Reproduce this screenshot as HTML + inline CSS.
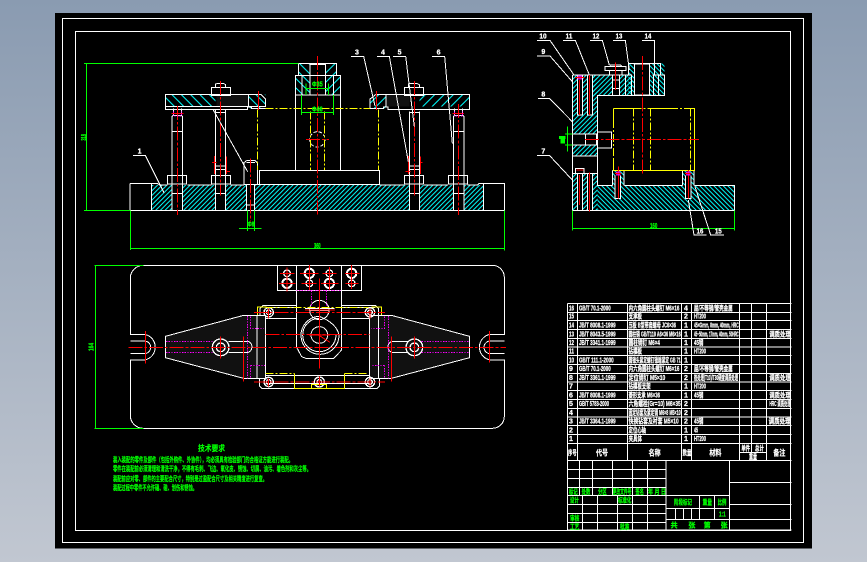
<!DOCTYPE html>
<html><head><meta charset="utf-8"><style>
html,body{margin:0;padding:0;background:#a5b1c1}
svg{display:block;shape-rendering:crispEdges}
.w{stroke:#fff;stroke-width:3;fill:none}
.r{stroke:#f00;stroke-width:3;fill:none}
.rd{stroke:#f00;stroke-width:3;fill:none;stroke-dasharray:42 6 8 6}
.y{stroke:#ff0;stroke-width:3;fill:none}
.yd{stroke:#ff0;stroke-width:3;fill:none;stroke-dasharray:24 6 6 6}
.g{stroke:#0f0;stroke-width:3;fill:none}
.m{stroke:#f0f;stroke-width:3;fill:none;stroke-dasharray:4 4}
.c1{fill:url(#h1);stroke:none}
.c2{fill:url(#h2);stroke:none}
.c3{fill:url(#h3);stroke:none}
.c4{fill:url(#h4);stroke:none}
text{font-family:"Liberation Sans","Noto Sans CJK SC",sans-serif;font-weight:bold}
.tw{fill:#fff;stroke:#fff;stroke-width:.8;font-size:21px}
.tg{fill:#0f0;stroke:#0f0;stroke-width:.8;font-size:21px}
</style></head><body>
<svg width="867" height="562" viewBox="0 0 867 562" xmlns="http://www.w3.org/2000/svg">
<defs>
<linearGradient id="bg" x1="0" y1="0" x2="0" y2="1"><stop offset="0" stop-color="#8a9bb1"/><stop offset="1" stop-color="#c1c7d1"/></linearGradient>
<pattern id="h1" patternUnits="userSpaceOnUse" width="14" height="14"><path d="M-2 16L16 -2M-2 2L2 -2M12 16L16 12" stroke="#0ff" stroke-width="2.5"/></pattern>
<pattern id="h2" patternUnits="userSpaceOnUse" width="14" height="14"><path d="M-2 -2L16 16M-2 12L2 16M12 -2L16 2" stroke="#0ff" stroke-width="2.5"/></pattern>
<pattern id="h3" patternUnits="userSpaceOnUse" width="28" height="28"><path d="M-2 -2L30 30M-2 26L2 30M26 -2L30 2" stroke="#0ff" stroke-width="2.5"/></pattern>
<pattern id="h4" patternUnits="userSpaceOnUse" width="28" height="28"><path d="M-2 30L30 -2M-2 2L2 -2M26 30L30 26" stroke="#0ff" stroke-width="2.5"/></pattern>
</defs>
<rect width="867" height="562" fill="url(#bg)"/>
<rect x="55" y="13" width="757" height="535.5" fill="#000"/>
<rect x="62.5" y="18.5" width="741" height="524" fill="none" stroke="#fff"/>
<rect x="75.5" y="31.5" width="715" height="499" fill="none" stroke="#fff"/>

<!-- front view -->
<g transform="translate(70 30) scale(.33333)">
<rect class="c1" x="244" y="465" width="62" height="76"/><rect class="c1" x="338" y="465" width="98" height="76"/><rect class="c1" x="467" y="465" width="63" height="76"/><rect class="c1" x="554" y="465" width="464" height="76"/><rect class="c1" x="1048" y="465" width="102" height="76"/><rect class="c1" x="1182" y="465" width="58" height="76"/>
<rect class="c3" x="287" y="193" width="150" height="36"/><rect class="c3" x="535" y="193" width="52" height="42"/>
<rect class="c4" x="1048" y="193" width="150" height="36"/><rect class="c4" x="900" y="193" width="48" height="42"/>
<rect x="440" y="195" width="95" height="34" fill="#111"/><rect x="950" y="195" width="68" height="34" fill="#111"/>
<rect class="c3" x="685" y="100" width="35" height="37"/><rect class="c4" x="766" y="100" width="34" height="37"/><rect class="c3" x="676" y="137" width="44" height="58"/><rect class="c4" x="766" y="137" width="46" height="58"/>
<path class="w" d="M180 460H244M244 460V541M180 460V541H1304V460H1240V541M1240 460H1304M244 460H262L268 465H292M352 465H424M482 465H522M1062 465H1134M1192 465H1222L1228 460H1240M929 465H1003"/>
<path class="w" d="M306 260V541M338 260V541M436 240V541M467 240V541M530 465V541M554 465V541M1018 245V541M1048 245V541M1150 260V541M1182 260V541M306 304H338M1150 304H1182M306 490H338M1150 490H1182M436 490H467M1018 490H1048M530 525H554"/>
<path class="w" d="M287 193H572L587 207V229H287ZM287 229V239H532V231H545V235H587M535 193V229M900 235V207L918 193H1198V239H954V231H940V235H900M948 193V229"/>
<path class="w" d="M424 172H482V196H424ZM437 172V162L445 160H460L467 164V172M1003 172H1061V196H1003ZM1016 172V162L1024 160H1040L1048 164V172M292 437H350V462H292ZM424 437H482V462H424ZM1003 437H1061V462H1003ZM1135 437H1193V462H1135ZM437 408H467V437M1018 408H1048V437M437 418H467M1018 418H1048"/>
<path class="w" d="M310 235V258M334 235V258M306 260L310 256H334L338 260M1150 260L1154 256H1178L1182 260M1154 235V256M1178 235V256M436 248H467M1018 248H1048"/>
<path class="w" d="M685 100H800V137H685ZM676 137H812V421H676ZM676 195H812M720 100V195M766 100V195M696 137V195M790 137V195M720 103H766"/>
<path class="w" d="M568 421H929V463H568ZM522 463V398L530 392H555L562 398V463M530 398H555M522 463H568"/>
<circle class="w" cx="742" cy="328" r="23" stroke-dasharray="10 6"/>
<path class="yd" d="M587 235H900M562 239V420M925 239V420M721 245V420M763 245V420"/>
<path class="rd" d="M322 228V555M451 153V497M1033 153V497M1165 222V555M742 78V555M708 328H777M542 385V575"/>
<path class="r" d="M565 183V240M920 183V240M304 250H340M1148 250H1182M433 378V432M470 380V432M1015 378V432M1052 380V432M426 398H440M1006 425H1022M1050 398H1058M468 425H480"/>
<path class="m" d="M310 245V258H334V245M1154 245V258H1178V245"/>
<path class="g" d="M42 100H685M50 100V541M42 541H180M181 541V660M1304 541V662M181 655H1304M507 595H575M532 541V603M553 541V603M708 160V195M776 160V195M708 175H776M694 195V255M790 195V255M694 248H790"/>
<path class="w" d="M189 376H226L282 488M843 79H881L915 228M921 79H958L1015 395M969 79H1007L1033 290M1086 79H1124L1147 340M430 240L533 425"/>
<text class="tg" transform="translate(48 332) rotate(-90)" textLength="20" lengthAdjust="spacingAndGlyphs">318</text>
<text class="tg" x="732" y="654" textLength="20" lengthAdjust="spacingAndGlyphs">360</text>
<text class="tg" x="533" y="590" textLength="20" lengthAdjust="spacingAndGlyphs">Φ8</text>
<text class="tg" x="726" y="170" textLength="32" lengthAdjust="spacingAndGlyphs">Φ35</text>
<text class="tg" x="726" y="244" textLength="32" lengthAdjust="spacingAndGlyphs">Φ46</text>
<text class="tw" x="203" y="370">1</text><text class="tw" x="855" y="74">3</text><text class="tw" x="933" y="74">4</text><text class="tw" x="983" y="74">5</text><text class="tw" x="1100" y="74">6</text>
</g>

<!-- side view -->
<g transform="translate(520 20) scale(.33333)">
<rect class="c1" x="218" y="165" width="117" height="62"/>
<rect class="c1" x="157" y="165" width="76" height="177"/>
<rect class="c1" x="157" y="375" width="76" height="33"/>
<rect class="c1" x="157" y="460" width="76" height="112"/>
<rect class="c2" x="233" y="496" width="410" height="76"/>
<rect class="c2" x="278" y="452" width="34" height="44"/><rect class="c2" x="488" y="452" width="34" height="44"/>
<rect class="c2" x="325" y="130" width="109" height="97"/>
<rect x="343" y="132" width="45" height="93" fill="#000"/>
<rect x="172" y="165" width="15" height="120" fill="#000"/><rect x="202" y="165" width="15" height="120" fill="#000"/><rect x="278" y="165" width="20" height="62" fill="#000"/><rect x="172" y="460" width="15" height="112" fill="#000"/><rect x="202" y="460" width="15" height="112" fill="#000"/><rect x="287" y="466" width="15" height="70" fill="#000"/><rect x="497" y="466" width="15" height="70" fill="#000"/>
<path class="w" d="M157 165V572H643V496H524M488 496H314M278 496H233V227H335V165H157M218 165V227M335 227H434V165H422V130H325V165"/>
<path class="w" d="M343 132H388V225H343ZM400 165V227M416 165V227M398 165H434M316 165V227M298 165V227M278 165V227M278 180H298M278 205H298M255 140H318V152H255ZM268 140L272 135H302L306 140M268 152V165M306 152V165"/>
<path class="w" d="M172 165V285H187V165M202 165V285H217V165M172 460V572M187 460V572M202 460V572M217 460V572M157 460H233M166 445H192V460H166ZM285 466V535H302V466M497 466V535H513V466M278 452V496M312 452V496M488 452V496M522 452V496M278 452H312M488 452H522"/>
<path class="w" d="M157 342H233M157 375H233M197 342V375M229 342V375M233 336H275V384H233M157 408H233M233 460V496"/>
<path class="y" d="M280 265V300M280 420V452H524V265H511M280 265H340M392 265H450"/>
<path class="yd" d="M511 265V452M340 265H392M450 265H511M280 300V420M340 265V452M392 265V452"/>
<path class="rd" d="M195 358H537M367 108V460"/>
<path class="r" d="M295 440V535M505 450V535M178 180V285M208 457V575M286 128V210M178 465V555M208 165V285"/>
<path d="M172 167h14v12h-14zM288 454h14v12h-14zM498 454h14v12h-14z" fill="#f0f" opacity=".8"/>
<path class="r" d="M165 173H193M285 460H305M495 460H515M170 450H190"/>
<path class="g" d="M157 572V632M643 572V632M157 625H643M142 320V395M135 342H157M135 375H157"/>
<rect x="117" y="348" width="20" height="9" fill="#0f0"/><rect x="121" y="357" width="14" height="14" fill="#0f0"/>
<text class="tg" x="390" y="624" textLength="22" lengthAdjust="spacingAndGlyphs">160</text>
<path class="w" d="M51 61H90L162 165M129 61H166L208 165M210 61H247L268 135M279 61H316L328 150M366 61H403V165M51 108H90L157 185M54 235H88L157 305M51 406H88L157 480M560 645H522L505 540M612 645H572L525 500"/>
<text class="tw" x="58" y="56" textLength="22" lengthAdjust="spacingAndGlyphs">10</text><text class="tw" x="137" y="56" textLength="20" lengthAdjust="spacingAndGlyphs">11</text><text class="tw" x="218" y="56" textLength="20" lengthAdjust="spacingAndGlyphs">12</text><text class="tw" x="287" y="56" textLength="20" lengthAdjust="spacingAndGlyphs">13</text><text class="tw" x="374" y="56" textLength="20" lengthAdjust="spacingAndGlyphs">14</text>
<text class="tw" x="64" y="102">9</text><text class="tw" x="64" y="229">8</text><text class="tw" x="64" y="400">7</text>
<text class="tw" x="530" y="640" textLength="20" lengthAdjust="spacingAndGlyphs">16</text><text class="tw" x="585" y="640" textLength="20" lengthAdjust="spacingAndGlyphs">15</text>
</g>

<!-- plan view -->
<g transform="translate(85 255) scale(.33333)">
<path d="M241 244L476 181H541V370H476L241 308Z" fill="#111"/><path d="M1154 244L919 181H853V370H919L1154 308Z" fill="#111"/>
<path class="w" d="M175 31H1222A36 36 0 0 1 1258 67V238H1216A39 39 0 0 0 1216 315H1258V484A36 36 0 0 1 1222 520H175A39 39 0 0 1 136 484V315H178A39 39 0 0 0 178 238H136V67A39 39 0 0 1 175 31Z"/>
<path class="w" d="M136 258H178A19 19 0 0 1 178 296H136M1258 258H1216A19 19 0 0 0 1216 296H1258"/>
<path class="w" d="M241 244L476 181H541V370H476L241 308ZM1154 244L919 181H853V370H919L1154 308ZM516 181V370M880 181V370M541 361H853M541 190H634M770 190H853M533 152H634M770 152H872L880 160V181M533 152L525 160V181M541 158H634M770 158H870M523 370V392L531 400H876L884 392V370M541 385H853"/>
<path class="w" d="M577 31H830V107H577ZM634 31V275L650 305L665 311H745L770 285V31M770 285V270"/>
<path class="w" d="M430 259H490M430 292H490M490 259A18 18 0 0 1 490 292M920 259H970M920 292H970M920 259A18 18 0 0 0 920 292"/>
<circle class="w" cx="703" cy="165" r="29"/><path class="w" d="M660 160H748M675 166H732"/>
<path class="w" d="M703 184A57 57 0 1 0 762 240Q755 205 703 184ZM703 190A50 50 0 1 0 753 240"/>
<circle class="w" cx="703" cy="240" r="25" stroke-width="5"/>
<g class="w" style="stroke-width:4">
<circle cx="407" cy="277" r="25"/><circle cx="407" cy="277" r="13"/><circle cx="988" cy="277" r="25"/><circle cx="988" cy="277" r="13"/>
<circle cx="551" cy="172" r="14"/><circle cx="551" cy="172" r="7"/><circle cx="855" cy="172" r="14"/><circle cx="855" cy="172" r="7"/><circle cx="551" cy="381" r="14"/><circle cx="551" cy="381" r="7"/><circle cx="855" cy="381" r="14"/><circle cx="855" cy="381" r="7"/><circle cx="703" cy="381" r="15"/><circle cx="703" cy="381" r="7"/>
<circle cx="606" cy="55" r="10"/><circle cx="606" cy="85" r="14" style="stroke-width:6"/><circle cx="673" cy="55" r="14" style="stroke-width:6"/><circle cx="673" cy="85" r="10"/><circle cx="733" cy="55" r="10"/><circle cx="733" cy="85" r="14" style="stroke-width:6"/><circle cx="800" cy="55" r="14" style="stroke-width:6"/><circle cx="800" cy="85" r="10"/>
</g>
<path class="m" d="M634 106H770M680 107V152M725 107V152M488 183V370M497 185V220H535M497 331H540M497 331V370M243 259H385M243 292H385M1010 259H1150M1010 292H1150M898 185V220H860M910 183V370M898 331H860M898 331V370"/>
<path class="yd" d="M541 158H850M541 355H628M778 355H850"/>
<path class="y" d="M517 180V156H545M889 180V156H860M628 355V400H778V355M680 400V388H725V400"/>
<path class="rd" d="M130 277H1263M541 239H853M507 172H900M507 381H900"/>
<path class="r" d="M703 70V340M181 228V326M1213 228V323M476 245V380M919 245V380M407 245V310M988 245V310M660 165H750M700 240L735 262M672 240H735M585 55H628M582 85H632M645 55H700M650 85H695M712 55H755M708 85H760M780 55H824M782 85H820M606 38V110M673 30V105M733 36V105M800 30V102M551 160V190M855 160V190M551 370V395M855 370V395M703 365V395"/>
<path class="g" d="M28 31H175M31 31V520M28 520H175"/>
<text class="tg" transform="translate(26 288) rotate(-90)" textLength="24" lengthAdjust="spacingAndGlyphs">164</text>
</g>

<!-- tech requirements -->
<g fill="#0f0" stroke="#0f0" stroke-width=".2" style="font-size:7px">
<text x="198" y="451" style="font-size:8px" textLength="27" lengthAdjust="spacingAndGlyphs">技术要求</text>
<text x="113" y="462" textLength="180" lengthAdjust="spacingAndGlyphs">装入装配的零件及部件（包括外购件、外协件），均必须具有检验部门的合格证方能进行装配。</text>
<text x="113" y="471" textLength="198" lengthAdjust="spacingAndGlyphs">零件在装配前必须清理和清洗干净，不得有毛刺、飞边、氧化皮、锈蚀、切屑、油污、着色剂和灰尘等。</text>
<text x="113" y="481" textLength="154" lengthAdjust="spacingAndGlyphs">装配前应对零、部件的主要配合尺寸，特别是过盈配合尺寸及相关精度进行复查。</text>
<text x="113" y="490" textLength="84" lengthAdjust="spacingAndGlyphs">装配过程中零件不允许磕、碰、划伤和锈蚀。</text>
</g>

<!-- table -->
<g transform="translate(560 295) scale(.33333)">
<path class="w" d="M22 25H694M22 52H694M22 77H694M22 104H694M22 130H694M22 156H694M22 182H694M22 208H694M22 235H694M22 261H694M22 287H694M22 313H694M22 340H694M22 366H694M22 392H694M22 418H694M22 445H694M22 496H694M22 25V705H694M53 25V496M202 25V496M365 25V496M395 25V496M538 25V496M574 25V472M620 25V496M538 472H620"/>
<path class="w" d="M22 523H318M22 550H318M22 577H318M22 601H508M22 628H318M22 655H318M22 682H318M58 496V601M97 496V601M157 496V601M217 496V601M262 496V601M67 601V705M112 601V705M172 601V705M217 601V705M262 601V705M318 496V705M318 640H508M318 673H508M418 601V673M463 601V673M346 640V673M370 640V673M394 640V673M508 496V705M508 562H694M508 628H694M508 673H694"/>
<g class="tw">
<text x="27" y="46" textLength="15" lengthAdjust="spacingAndGlyphs">16</text><text x="57" y="46" textLength="95" lengthAdjust="spacingAndGlyphs">GB/T 70.1-2000</text><text x="206" y="46" textLength="152" lengthAdjust="spacingAndGlyphs">内六角圆柱头螺钉 M6×16</text><text x="372" y="46">4</text><text x="402" y="46" textLength="116" lengthAdjust="spacingAndGlyphs">屈/不等钢/管壳金属</text>
<text x="27" y="71" textLength="15" lengthAdjust="spacingAndGlyphs">15</text><text x="206" y="71" textLength="40" lengthAdjust="spacingAndGlyphs">支承板</text><text x="372" y="71">2</text><text x="402" y="71" textLength="36" lengthAdjust="spacingAndGlyphs">HT200</text>
<text x="27" y="98" textLength="15" lengthAdjust="spacingAndGlyphs">14</text><text x="57" y="98" textLength="110" lengthAdjust="spacingAndGlyphs">JB/T 8008.1-1999</text><text x="206" y="98" textLength="142" lengthAdjust="spacingAndGlyphs">压板 B型带肩螺母 JC6×36</text><text x="372" y="98">1</text><text x="402" y="98" textLength="134" lengthAdjust="spacingAndGlyphs">45×Gmm, 8mm, 40mm, HRC</text>
<text x="27" y="124" textLength="15" lengthAdjust="spacingAndGlyphs">13</text><text x="57" y="124" textLength="110" lengthAdjust="spacingAndGlyphs">JB/T 8043.5-1999</text><text x="206" y="124" textLength="156" lengthAdjust="spacingAndGlyphs">圆柱销 GB/T119 A6×36 M6×16</text><text x="372" y="124">1</text><text x="402" y="124" textLength="134" lengthAdjust="spacingAndGlyphs">45~50mm, 17mm, 40mm, 50HRC</text><text x="628" y="124" textLength="64" lengthAdjust="spacingAndGlyphs">调质处理</text>
<text x="27" y="150" textLength="15" lengthAdjust="spacingAndGlyphs">12</text><text x="57" y="150" textLength="110" lengthAdjust="spacingAndGlyphs">JB/T 3341.1-1999</text><text x="206" y="150" textLength="94" lengthAdjust="spacingAndGlyphs">圆柱销钉 M6×4</text><text x="372" y="150">1</text><text x="402" y="150" textLength="28" lengthAdjust="spacingAndGlyphs">45钢</text>
<text x="27" y="176" textLength="15" lengthAdjust="spacingAndGlyphs">11</text><text x="206" y="176" textLength="40" lengthAdjust="spacingAndGlyphs">钻模板</text><text x="372" y="176">1</text><text x="402" y="176" textLength="36" lengthAdjust="spacingAndGlyphs">HT200</text>
<text x="27" y="202" textLength="15" lengthAdjust="spacingAndGlyphs">10</text><text x="57" y="202" textLength="104" lengthAdjust="spacingAndGlyphs">GB/T 111.1-2000</text><text x="206" y="202" textLength="156" lengthAdjust="spacingAndGlyphs">圆锥头紧定螺钉锥端紧定 GB 71</text><text x="372" y="202">1</text>
<text x="27" y="228">9</text><text x="57" y="228" textLength="95" lengthAdjust="spacingAndGlyphs">GB/T 70.1-2000</text><text x="206" y="228" textLength="152" lengthAdjust="spacingAndGlyphs">内六角圆柱头螺钉 M6×16</text><text x="372" y="228">2</text><text x="402" y="228" textLength="116" lengthAdjust="spacingAndGlyphs">屈/不等钢/管壳金属</text>
<text x="27" y="255">8</text><text x="57" y="255" textLength="110" lengthAdjust="spacingAndGlyphs">JB/T 3361.1-1999</text><text x="206" y="255" textLength="110" lengthAdjust="spacingAndGlyphs">定位销钉 M5×10</text><text x="372" y="255">2</text><text x="402" y="255" textLength="132" lengthAdjust="spacingAndGlyphs">热处理(T10)/T30硬度调质处理</text><text x="628" y="255" textLength="64" lengthAdjust="spacingAndGlyphs">调质处理</text>
<text x="27" y="281">7</text><text x="206" y="281" textLength="66" lengthAdjust="spacingAndGlyphs">钻模板支架</text><text x="372" y="281">1</text><text x="402" y="281" textLength="36" lengthAdjust="spacingAndGlyphs">HT200</text>
<text x="27" y="307">6</text><text x="57" y="307" textLength="110" lengthAdjust="spacingAndGlyphs">JB/T 8008.1-1999</text><text x="206" y="307" textLength="94" lengthAdjust="spacingAndGlyphs">菱形支承 M6×36</text><text x="372" y="307">1</text><text x="402" y="307" textLength="28" lengthAdjust="spacingAndGlyphs">45钢</text><text x="628" y="307" textLength="64" lengthAdjust="spacingAndGlyphs">调质处理</text>
<text x="27" y="333">5</text><text x="57" y="333" textLength="90" lengthAdjust="spacingAndGlyphs">GB/T 5783-2000</text><text x="206" y="333" textLength="156" lengthAdjust="spacingAndGlyphs">六角螺栓(Gr=10) M6×35</text><text x="372" y="333">2</text><text x="628" y="333" textLength="64" lengthAdjust="spacingAndGlyphs">HRC 调质处理</text>
<text x="27" y="360">4</text><text x="206" y="360" textLength="156" lengthAdjust="spacingAndGlyphs">固定钻套及紧定销 M6×8 M5×10</text><text x="372" y="360">2</text>
<text x="27" y="386">3</text><text x="57" y="386" textLength="110" lengthAdjust="spacingAndGlyphs">JB/T 3364.1-1999</text><text x="206" y="386" textLength="150" lengthAdjust="spacingAndGlyphs">快换钻套及衬套 M5×10</text><text x="372" y="386">2</text><text x="402" y="386" textLength="28" lengthAdjust="spacingAndGlyphs">45钢</text><text x="626" y="386" textLength="66" lengthAdjust="spacingAndGlyphs">调质处理</text>
<text x="27" y="412">2</text><text x="206" y="412" textLength="52" lengthAdjust="spacingAndGlyphs">定位心轴</text><text x="372" y="412">1</text><text x="402" y="412" textLength="12" lengthAdjust="spacingAndGlyphs">45</text>
<text x="27" y="438">1</text><text x="206" y="438" textLength="40" lengthAdjust="spacingAndGlyphs">夹具体</text><text x="372" y="438">1</text><text x="402" y="438" textLength="36" lengthAdjust="spacingAndGlyphs">HT200</text>
<text x="24" y="480" textLength="26" lengthAdjust="spacingAndGlyphs">序号</text><text x="108" y="482" style="font-size:24px" textLength="36" lengthAdjust="spacingAndGlyphs">代号</text><text x="266" y="482" style="font-size:24px" textLength="36" lengthAdjust="spacingAndGlyphs">名称</text><text x="368" y="480" textLength="26" lengthAdjust="spacingAndGlyphs">数量</text><text x="448" y="482" style="font-size:24px" textLength="36" lengthAdjust="spacingAndGlyphs">材料</text><text x="544" y="466" textLength="26" lengthAdjust="spacingAndGlyphs">单件</text><text x="585" y="466" textLength="26" lengthAdjust="spacingAndGlyphs">总计</text><text x="567" y="492" textLength="24" lengthAdjust="spacingAndGlyphs">重量</text><text x="640" y="482" style="font-size:24px" textLength="36" lengthAdjust="spacingAndGlyphs">备注</text>
</g>
<g class="tg">
<text x="27" y="597" textLength="26" lengthAdjust="spacingAndGlyphs">标记</text><text x="65" y="597" textLength="26" lengthAdjust="spacingAndGlyphs">处数</text><text x="114" y="597" textLength="26" lengthAdjust="spacingAndGlyphs">分区</text><text x="158" y="597" textLength="56" lengthAdjust="spacingAndGlyphs">更改文件号</text><text x="226" y="597" textLength="26" lengthAdjust="spacingAndGlyphs">签名</text><text x="264" y="597" textLength="54" lengthAdjust="spacingAndGlyphs">年 月 日</text>
<text x="30" y="622" textLength="26" lengthAdjust="spacingAndGlyphs">设计</text><text x="174" y="622" textLength="40" lengthAdjust="spacingAndGlyphs">标准化</text>
<text x="30" y="676" textLength="28" lengthAdjust="spacingAndGlyphs">审核</text><text x="30" y="702" textLength="28" lengthAdjust="spacingAndGlyphs">工艺</text><text x="180" y="702" textLength="28" lengthAdjust="spacingAndGlyphs">批准</text>
<text x="342" y="628" textLength="54" lengthAdjust="spacingAndGlyphs">阶段标记</text><text x="428" y="628" textLength="28" lengthAdjust="spacingAndGlyphs">重量</text><text x="473" y="628" textLength="26" lengthAdjust="spacingAndGlyphs">比例</text><text x="477" y="665" textLength="20" lengthAdjust="spacingAndGlyphs">1:1</text>
<text x="332" y="698">共</text><text x="385" y="698">张</text><text x="431" y="698">第</text><text x="482" y="698">张</text>
</g>
</g>
</svg>
</body></html>
